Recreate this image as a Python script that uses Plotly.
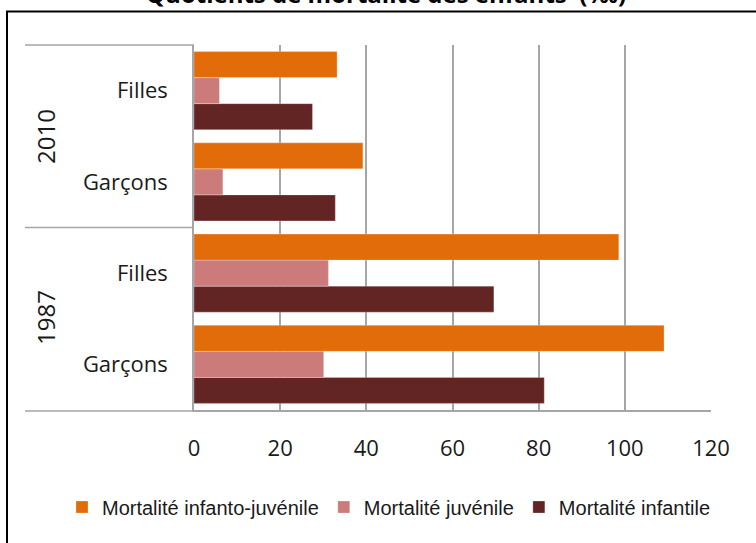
import plotly.graph_objects as go

# ---- data ----
years = ["1987", "1987", "2010", "2010"]
sexes = ["Garçons", "Filles", "Garçons", "Filles"]
infanto_juvenile = [109.1, 98.6, 39.2, 33.2]
juvenile = [30.1, 31.2, 6.7, 5.9]
infantile = [81.3, 69.6, 32.8, 27.5]
series_names = ["Mortalité infanto-juvénile", "Mortalité juvénile", "Mortalité infantile"]
year_labels = ["1987", "2010"]
x_ticks = [0, 20, 40, 60, 80, 100, 120]
title_text = "Quotients de mortalité des enfants  (‰)"

cats = [f"{y}|{s}" for y, s in zip(years, sexes)]

col_orange = "#E36C0A"
col_pink = "#CC7B7B"
col_dark = "#632523"

W, H = 756, 543
OFF = 0  # page body margin removed via post_script
L, R, T, B = 194, 45, 45, 133
pw, ph = W - L - R, H - T - B

def sx(px):  # screen px -> paper x
    return (px - OFF - L) / pw

def sy(py):  # screen px -> paper y
    return (H - B - (py - OFF)) / ph

fig = go.Figure()
for name, vals, col in [(series_names[2], infantile, col_dark),
                        (series_names[1], juvenile, col_pink),
                        (series_names[0], infanto_juvenile, col_orange)]:
    fig.add_trace(go.Bar(
        y=cats, x=vals, name=name, orientation="h",
        marker=dict(color=col, line=dict(color="rgba(255,255,255,0.5)", width=0.5)),
    ))

shapes = []
line_col = "#A6A6A6"
# outer black frame
shapes.append(dict(type="rect", xref="paper", yref="paper",
                   x0=sx(7), x1=sx(800), y0=sy(600), y1=sy(11.5),
                   line=dict(color="black", width=2), fillcolor="rgba(0,0,0,0)", layer="below"))
# category separator lines
for py in [45, 227.5, 411]:
    shapes.append(dict(type="line", xref="paper", yref="paper",
                       x0=sx(25), x1=sx(194), y0=sy(py), y1=sy(py),
                       line=dict(color=line_col, width=1.5)))

annotations = []
for yl, center in zip(year_labels, [318, 137]):
    annotations.append(dict(text=yl, xref="paper", yref="paper",
                            x=sx(45), y=sy(center), showarrow=False, textangle=-90,
                            font=dict(family="Open Sans", size=24, color="#1a1a1a"),
                            xanchor="center", yanchor="middle"))
annotations.append(dict(text=f"<b>{title_text}</b>", xref="paper", yref="paper",
                        x=sx(386), y=sy(12), showarrow=False,
                        font=dict(family="Open Sans", size=24, color="black"),
                        xanchor="center", yanchor="bottom"))

fig.update_layout(
    width=W, height=H,
    margin=dict(l=L, r=R, t=T, b=B, autoexpand=False),
    paper_bgcolor="white", plot_bgcolor="white",
    barmode="group", bargap=0.145, bargroupgap=0,
    shapes=shapes, annotations=annotations,
    showlegend=True,
    legend=dict(orientation="h", traceorder="reversed",
                xref="paper", yref="paper",
                x=sx(62), xanchor="left",
                y=sy(507), yanchor="middle",
                font=dict(family="Liberation Sans", size=20, color="#1a1a1a"),
                itemwidth=30, tracegroupgap=0),
    xaxis=dict(range=[0, 120], tickvals=x_ticks, ticktext=[str(v) for v in x_ticks],
               showgrid=True, gridcolor=line_col, gridwidth=1.5, zeroline=False,
               showline=True, linecolor=line_col, linewidth=1.5, mirror=False,
               tickfont=dict(family="Open Sans", size=22, color="#1a1a1a"),
               ticks="", ticklabelstandoff=18),
    yaxis=dict(type="category", categoryorder="array", categoryarray=cats,
               tickvals=cats, ticktext=sexes,
               showgrid=False, zeroline=False, showline=True, linecolor=line_col, linewidth=1.5,
               tickfont=dict(family="Open Sans", size=22, color="#1a1a1a"),
               ticks="", ticklabelstandoff=20),
)

fig.write_html("out.html", config={"displayModeBar": False},
               post_script="document.body.style.margin='0';")
